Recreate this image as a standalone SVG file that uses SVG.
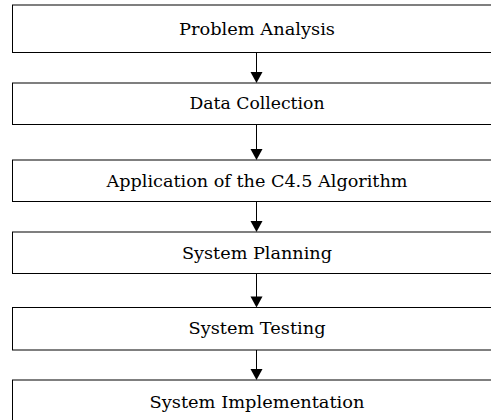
<svg xmlns="http://www.w3.org/2000/svg" width="491" height="420" viewBox="0 0 491 420">
<style>
.box{fill:#fff;stroke:#000;stroke-width:1}
.lbl{font-family:"DejaVu Serif","Liberation Serif",serif;font-size:16px;fill:#000;text-anchor:middle}
.conn line{stroke:#000;stroke-width:1}
.conn polygon{fill:#000}
</style>
<rect width="491" height="420" fill="#fff"/>
<g id="n1"><rect class="box" x="12.5" y="5" width="480" height="47.5"/><text class="lbl" x="257" y="35" textLength="156" lengthAdjust="spacingAndGlyphs">Problem Analysis</text></g>
<g id="n2"><rect class="box" x="12.5" y="83" width="480" height="41.5"/><text class="lbl" x="257" y="109" textLength="135" lengthAdjust="spacingAndGlyphs">Data Collection</text></g>
<g id="n3"><rect class="box" x="12.5" y="160" width="480" height="41.5"/><text class="lbl" x="257" y="187" textLength="301" lengthAdjust="spacingAndGlyphs">Application of the C4.5 Algorithm</text></g>
<g id="n4"><rect class="box" x="12.5" y="232" width="480" height="41.5"/><text class="lbl" x="257" y="259" textLength="150" lengthAdjust="spacingAndGlyphs">System Planning</text></g>
<g id="n5"><rect class="box" x="12.5" y="307.5" width="480" height="42.5"/><text class="lbl" x="257" y="334" textLength="137" lengthAdjust="spacingAndGlyphs">System Testing</text></g>
<g id="n6"><rect class="box" x="12.5" y="380" width="480" height="50"/><text class="lbl" x="257" y="408" textLength="215" lengthAdjust="spacingAndGlyphs">System Implementation</text></g>
<g class="conn" id="connectors">
<line x1="256.5" y1="52.5" x2="256.5" y2="73"/><polygon points="250.5,72 262.5,72 256.5,83"/>
<line x1="256.5" y1="124.5" x2="256.5" y2="150"/><polygon points="250.5,149 262.5,149 256.5,160"/>
<line x1="256.5" y1="201.5" x2="256.5" y2="222"/><polygon points="250.5,221 262.5,221 256.5,232"/>
<line x1="256.5" y1="273.5" x2="256.5" y2="297"/><polygon points="250.5,296.5 262.5,296.5 256.5,307.5"/>
<line x1="256.5" y1="350" x2="256.5" y2="370"/><polygon points="250.5,369 262.5,369 256.5,380"/>
</g>
</svg>
